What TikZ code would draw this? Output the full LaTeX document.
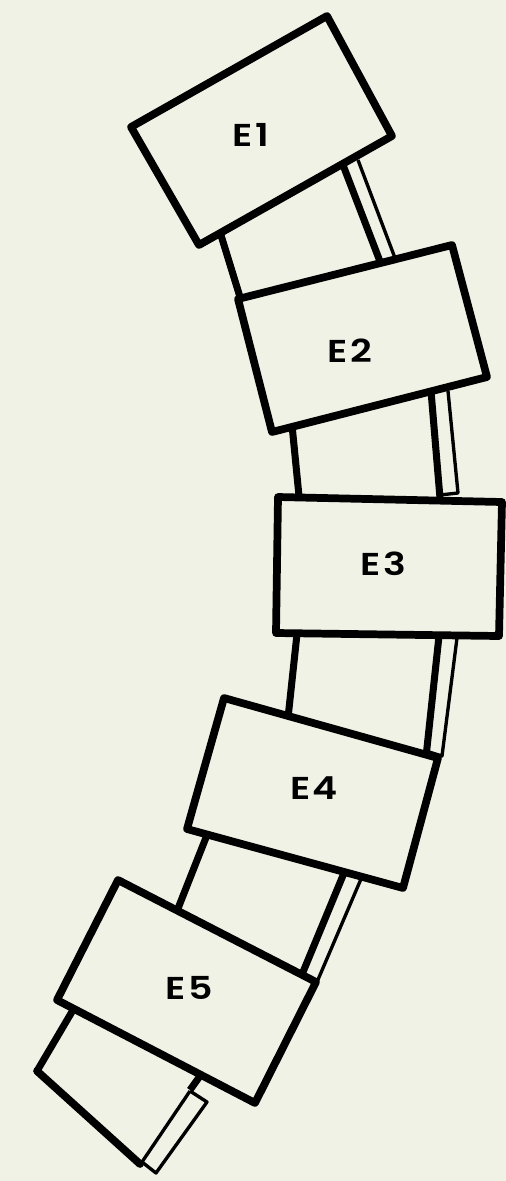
\documentclass[tikz,border=0pt]{standalone}
\usepackage{fontspec}
\setmainfont{Poppins}
\newfontfamily\boxfont{Poppins SemiBold}[FakeStretch=1.2]
\definecolor{paper}{HTML}{F0F2E6}
\begin{document}
\begin{tikzpicture}[x=0.02cm,y=-0.02cm,
	every node/.style={font=\fontsize{18}{18}\boxfont},
	wall/.style={line width=4.4pt,line join=round,line cap=round},
	link/.style={line width=4pt,line cap=butt},
	rail/.style={line width=1.9pt,line join=round}]
%----------------------------------------------------------
	% Paper
	%------------------------------------------------------
	\fill[paper] (0,0) rectangle (506,1181);
	\useasboundingbox (0,0) rectangle (506,1181);

	% Links between the boxes
	%------------------------------------------------------
	\draw[link] (220,232) -- (240,297);
	\draw[link] (343,165) -- (381,264);
	\draw[rail] (358,160) -- (395,258);

	\draw[link] (292,425) -- (299,496);
	\draw[link] (431,391) -- (440,498);
	\draw[rail] (448,391) -- (458,493) -- (440,495);

	\draw[link] (297,634) -- (288,718);
	\draw[link] (439,636) -- (426,757);
	\draw[rail] (457,638) -- (442,756) -- (426,751);

	\draw[link] (207,835) -- (177,911);
	\draw[link] (344,873) -- (303,972);
	\draw[rail] (361,879) -- (317,982);

	\draw[link,line join=round] (73,1010) -- (37,1071);
	\draw[wall] (37,1071) -- (140,1164);
	\draw[link] (200,1076) -- (190,1090);
	\draw[rail] (190,1091) -- (142,1162) -- (156,1173) -- (207,1102) -- (190,1091);

	% Boxes
	%------------------------------------------------------
	\coordinate (E1TL) at (131,127);
	\coordinate (E1TR) at (327,16);
	\coordinate (E1BR) at (392,136);
	\coordinate (E1BL) at (199,245);
	\draw[wall] (E1TL) -- (E1TR) -- (E1BR) -- (E1BL) -- cycle;

	\coordinate (E2TL) at (238,299);
	\coordinate (E2TR) at (452,245);
	\coordinate (E2BR) at (487,377);
	\coordinate (E2BL) at (272,432);
	\draw[wall] (E2TL) -- (E2TR) -- (E2BR) -- (E2BL) -- cycle;

	\coordinate (E3TL) at (278,497);
	\coordinate (E3TR) at (502,502);
	\coordinate (E3BR) at (499,636);
	\coordinate (E3BL) at (276,633);
	\draw[wall] (E3TL) -- (E3TR) -- (E3BR) -- (E3BL) -- cycle;

	\coordinate (E4TL) at (224,698);
	\coordinate (E4TR) at (438,758);
	\coordinate (E4BR) at (403,888);
	\coordinate (E4BL) at (187,829);
	\draw[wall] (E4TL) -- (E4TR) -- (E4BR) -- (E4BL) -- cycle;

	\coordinate (E5TL) at (118,880);
	\coordinate (E5TR) at (316,982);
	\coordinate (E5BR) at (255,1103);
	\coordinate (E5BL) at (57,1000);
	\draw[wall] (E5TL) -- (E5TR) -- (E5BR) -- (E5BL) -- cycle;

	% Labels
	%------------------------------------------------------
	\node (E1) at (251,135) {E\kern1.5pt 1};
	\node (E2) at (350,351) {E\kern1.5pt 2};
	\node (E3) at (383,564) {E\kern1.5pt 3};
	\node (E4) at (314,788) {E\kern1.5pt 4};
	\node (E5) at (189,988) {E\kern1.5pt 5};
\end{tikzpicture}
\end{document}
